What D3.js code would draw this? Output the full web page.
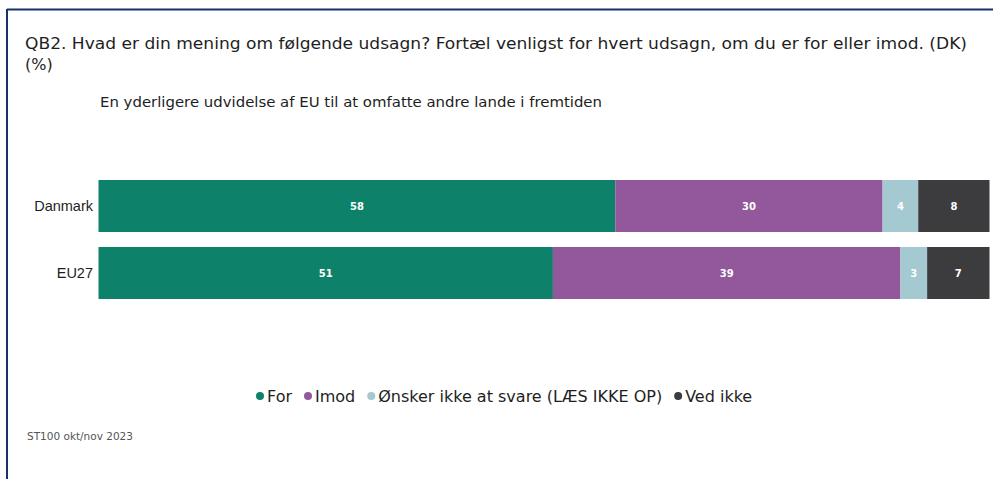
<!DOCTYPE html>
<html>
<head>
<meta charset="utf-8">
<script src="https://cdn.jsdelivr.net/npm/d3@7"></script>
<style>
  body { margin: 0; background: #fff; }
  svg { display: block; font-family: "DejaVu Sans", sans-serif; }
  .title { font-size: 16px; fill: #1e1e1e; }
  .subtitle { font-size: 14px; fill: #1e1e1e; }
  .cat { font-size: 14.5px; fill: #1e1e1e; }
  .val { font-size: 10px; font-weight: bold; fill: #fff; }
  .leg { font-size: 16px; fill: #1e1e1e; }
  .foot { font-size: 10.5px; fill: #555; }
</style>
</head>
<body>
<svg id="chart" width="993" height="479"></svg>
<script>
const categories = ['Danmark', 'EU27']
const seriesNames = ['For', 'Imod', 'Ønsker ikke at svare (LÆS IKKE OP)', 'Ved ikke']
const seriesColors = ['#0d8169', '#92589b', '#a5c9d1', '#3c3c3e']
const forValues = [58, 51]
const imodValues = [30, 39]
const noAnswerValues = [4, 3]
const dontKnowValues = [8, 7]

const allSeries = [forValues, imodValues, noAnswerValues, dontKnowValues]

const rows = categories.map((c, i) => {
    const r = { cat: c }
    seriesNames.forEach((s, j) => { r[s] = allSeries[j][i] })
    return r
})

const stacked = d3.stack().keys(seriesNames)(rows)

const svg = d3.select('#chart')

// frame lines (top + left)
svg.append('line').attr('x1', 7).attr('x2', 993).attr('y1', 9.5).attr('y2', 9.5)
    .attr('stroke', '#1b2f6b').attr('stroke-width', 2)
svg.append('line').attr('x1', 7).attr('x2', 7).attr('y1', 9).attr('y2', 479)
    .attr('stroke', '#1b2f6b').attr('stroke-width', 2)

const title = svg.append('text').classed('title', true).attr('x', 25).attr('y', 49)
    .text('QB2. Hvad er din mening om følgende udsagn? Fortæl venligst for hvert udsagn, om du er for eller imod. (DK)')
title.attr('textLength', 942).attr('lengthAdjust', 'spacingAndGlyphs')
svg.append('text').classed('title', true).attr('x', 25).attr('y', 70).text('(%)')

svg.append('text').classed('subtitle', true).attr('x', 100).attr('y', 107)
    .attr('textLength', 502).attr('lengthAdjust', 'spacingAndGlyphs')
    .text('En yderligere udvidelse af EU til at omfatte andre lande i fremtiden')

const xScale = d3.scaleLinear().domain([0, 100]).range([98.5, 989.5])
const yScale = d3.scaleBand().domain(categories).range([180, 299]).paddingInner(15 / 67).paddingOuter(0)

const layers = svg.selectAll('.layer')
    .data(stacked)
    .enter()
    .append('g')
    .classed('layer', true)
    .attr('fill', (d, i) => seriesColors[i])

layers.selectAll('rect')
    .data(d => d)
    .enter()
    .append('rect')
    .attr('x', d => xScale(d[0]))
    .attr('width', d => xScale(d[1]) - xScale(d[0]))
    .attr('y', d => yScale(d.data.cat))
    .attr('height', yScale.bandwidth())

layers.selectAll('.val')
    .data(d => d.map(p => ({ p: p, v: p[1] - p[0] })))
    .enter()
    .append('text')
    .classed('val', true)
    .attr('text-anchor', 'middle')
    .attr('dominant-baseline', 'central')
    .attr('x', d => (xScale(d.p[0]) + xScale(d.p[1])) / 2)
    .attr('y', d => yScale(d.p.data.cat) + yScale.bandwidth() / 2)
    .text(d => d.v)

const yAxis = svg.append('g').attr('transform', 'translate(98,0)')
    .call(d3.axisLeft(yScale).tickSize(0).tickPadding(5))
yAxis.select('.domain').remove()
yAxis.selectAll('text').attr('class', 'cat').attr('font-family', null).attr('font-size', null).attr('fill', null)

// legend
const legend = svg.append('g').attr('transform', 'translate(0,396)')
let lx = 256
seriesNames.forEach((s, i) => {
    const g = legend.append('g').attr('transform', `translate(${lx},0)`)
    g.append('circle').attr('cx', 4).attr('cy', 0).attr('r', 4).attr('fill', seriesColors[i])
    const t = g.append('text').classed('leg', true).attr('x', 11).attr('dy', '0.35em').text(s)
    lx += 11 + t.node().getComputedTextLength() + 12
})

svg.append('text').classed('foot', true).attr('x', 27).attr('y', 440).text('ST100 okt/nov 2023')
</script>
</body>
</html>
